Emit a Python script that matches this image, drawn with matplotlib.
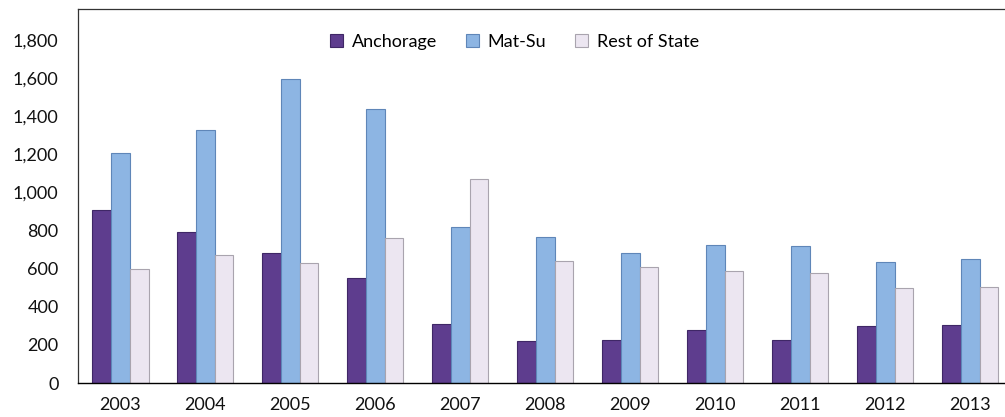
import numpy as np
import matplotlib
matplotlib.use("Agg")
import matplotlib.pyplot as plt

plt.rcParams['font.family'] = ['Lato', 'DejaVu Sans']

years = ["2003", "2004", "2005", "2006", "2007", "2008",
         "2009", "2010", "2011", "2012", "2013"]
anchorage = [905, 792, 680, 551, 310, 220, 226, 276, 228, 299, 303]
mat_su = [1207, 1328, 1594, 1438, 819, 766, 682, 724, 719, 635, 651]
rest_of_state = [598, 672, 630, 761, 1070, 640, 608, 588, 577, 498, 502]

series = [
    ("Anchorage", anchorage, "#5e3d8e", "#3f2766"),
    ("Mat-Su", mat_su, "#8db5e3", "#5f86b8"),
    ("Rest of State", rest_of_state, "#ece6f1", "#a9a4ae"),
]

fig = plt.figure(figsize=(10.05, 4.17), dpi=100)
ax = fig.add_axes([0.0776, 0.0815, 0.93, 0.8965])

x = np.arange(len(years))
width = 0.22
offsets = [-0.22, 0.0, 0.22]

for (name, vals, face, edge), off in zip(series, offsets):
    ax.bar(x + off, vals, width, color=face, edgecolor=edge,
           linewidth=0.8, label=name, zorder=2)

ax.set_xlim(-0.5, 10.5)
ax.set_ylim(0, 1960)
ax.set_yticks(np.arange(0, 1801, 200))
ax.set_yticklabels([f"{v:,}" for v in range(0, 1801, 200)])
ax.set_xticks(x)
ax.set_xticklabels(years)
ax.tick_params(axis='both', length=0, labelsize=13, colors="#111111")
ax.tick_params(axis='y', pad=14)
ax.tick_params(axis='x', pad=10)

for side in ["left", "top"]:
    ax.spines[side].set_color("#333333")
    ax.spines[side].set_linewidth(0.9)
ax.spines["right"].set_visible(False)
ax.spines["bottom"].set_color("#000000")
ax.spines["bottom"].set_linewidth(1.0)

leg = ax.legend(loc="center", bbox_to_anchor=(0.467, 0.912), ncol=3,
                frameon=False, fontsize=13, handlelength=0.7,
                handleheight=0.7, columnspacing=1.6, handletextpad=0.5)

fig.savefig("out.png", dpi=100)
